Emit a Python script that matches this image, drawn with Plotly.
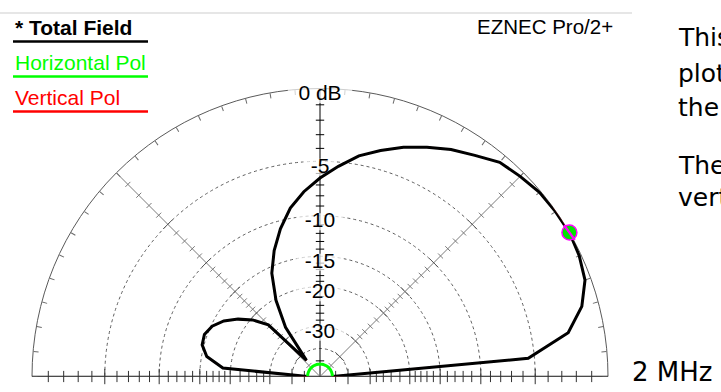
import plotly.graph_objects as go

W, H = 721, 392

# Elevation pattern, 5 degree steps (0 = horizon to the right, 180 = horizon to the left)
elev_deg = [0, 5, 10, 15, 20, 25, 30, 35, 40, 45, 50, 55, 60, 65, 70, 75, 80, 85, 90,
            95, 100, 105, 110, 115, 120, 125, 130, 135, 140, 145, 150, 155, 160, 165,
            170, 175, 180]
total_db = [-99.0, -5.50, -2.29, -1.04, -0.36, -0.12, 0.00, -0.03, -0.09, -0.30, -0.51,
            -1.11, -1.62, -2.22, -2.85, -3.56, -4.31, -5.34, -6.39, -7.55, -8.95, -10.86,
            -13.13, -15.90, -20.35, -26.90, -44.90, -23.55, -20.35, -18.15, -16.36, -15.17,
            -14.60, -14.74, -15.76, -18.59, -99.0]
vpol_db = [-99.0, -5.50, -2.29, -1.04, -0.36, -0.12, 0.00, -0.03, -0.09, -0.30, -0.51,
           -1.11, -1.62, -2.22, -2.85, -3.56, -4.31, -5.34, -6.39, -7.55, -8.95, -10.86,
           -13.13, -15.90, -20.35, -26.90, -44.90, -23.55, -20.35, -18.15, -16.36, -15.17,
           -14.60, -14.74, -15.76, -18.59, -99.0]
hpol_db = [-99.0, -99.0, -99.0, -99.0, -99.0, -99.0, -99.0, -99.0, -99.0, -99.0, -99.0,
           -99.0, -99.0, -99.0, -99.0, -99.0, -99.0, -99.0, -99.0, -99.0, -99.0, -99.0,
           -99.0, -99.0, -99.0, -99.0, -99.0, -99.0, -99.0, -99.0, -99.0, -99.0, -99.0,
           -99.0, -99.0, -99.0, -99.0]

# Dashed rings and scale labels (dB)
ring_db = [-5, -10, -15, -20, -30, -40]
label_db = [0, -5, -10, -15, -20, -30]
label_text = ["0 dB", "-5", "-10", "-15", "-20", "-30"]
label_width_px = [46, 24, 34, 34, 34, 34]
minor_tick_db = [-1, -2, -3, -4, -6, -7, -8, -9, -11, -12, -13, -14, -16, -17, -18, -19,
                 -22, -24, -26, -28, -50]

legend_items = ["* Total Field", "Horizontal Pol", "Vertical Pol"]
legend_colors = ["#000000", "#00ff00", "#ff0000"]

# Slide notes beside the plot; the text box runs past the right edge of the view
note_lines = ["This", "plot", "the", "The", "vertical"]
note_y_px = [38, 74, 108, 165, 198]

FLOOR_DB = -54.0


def arrl(db):
    """ARRL log scale: radius shrinks by 0.89 for every 2 dB below the peak."""
    return 0.89 ** (-max(db, FLOOR_DB) / 2.0)


def radii(values):
    return [arrl(v) for v in values]


# Plot geometry (pixels)
CX, CY, R = 320, 376.5, 288
FONT = "Arial, Liberation Sans, sans-serif"

fig = go.Figure()


def ticks(theta, dbs, symbol, size, color):
    fig.add_trace(go.Scatterpolar(
        r=radii(dbs), theta=[theta] * len(dbs), mode="markers", cliponaxis=False,
        marker=dict(symbol=symbol, size=size, color=color, line=dict(color=color, width=1)),
        hoverinfo="skip", showlegend=False))


# Horizon axis and the 45 / 135 degree spokes
fig.add_trace(go.Scatterpolar(r=[1, 0, 1], theta=[0, 0, 180], mode="lines",
                              line=dict(color="#202020", width=1.5),
                              hoverinfo="skip", showlegend=False))
for ang in (45, 135):
    fig.add_trace(go.Scatterpolar(r=[0, 1], theta=[ang, ang], mode="lines",
                                  line=dict(color="#7a7a7a", width=1),
                                  hoverinfo="skip", showlegend=False))

# Scale ticks along the axes
ticks(90, minor_tick_db, "line-ew", 6, "#000000")
for ang in (0, 180):
    ticks(ang, minor_tick_db, "line-ns", 8, "#303030")
    ticks(ang, ring_db, "line-ns", 11, "#303030")
ticks(45, minor_tick_db, "line-nw", 5, "#7a7a7a")
ticks(45, ring_db, "line-nw", 9, "#555555")
ticks(135, minor_tick_db, "line-ne", 5, "#7a7a7a")
ticks(135, ring_db, "line-ne", 9, "#555555")

# Scale labels on the vertical axis, knocked out of the grid
label_r = [arrl(d) - 6.0 / R for d in label_db]
fig.add_trace(go.Scatterpolar(
    r=label_r, theta=[90] * len(label_db), mode="markers", cliponaxis=False,
    marker=dict(symbol="line-ew", size=label_width_px, color="white",
                line=dict(color="white", width=17)),
    hoverinfo="skip", showlegend=False))
fig.add_trace(go.Scatterpolar(
    r=label_r, theta=[90] * len(label_db), mode="text", text=label_text,
    textposition="middle center", cliponaxis=False,
    textfont=dict(family=FONT, size=21, color="#000000"),
    hoverinfo="skip", showlegend=False))

# Pattern traces
fig.add_trace(go.Scatterpolar(r=radii(vpol_db), theta=elev_deg, mode="lines",
                              line=dict(color="#ff0000", width=1.5), name="Vertical Pol",
                              showlegend=False))
fig.add_trace(go.Scatterpolar(r=radii(total_db), theta=elev_deg, mode="lines",
                              line=dict(color="#000000", width=3), name="Total Field",
                              showlegend=False))
fig.add_trace(go.Scatterpolar(r=radii(hpol_db), theta=elev_deg, mode="lines",
                              line=dict(color="#00ff00", width=3), name="Horizontal Pol",
                              showlegend=False, cliponaxis=False))

# Cursor on the peak of the total field
peak_i = max(range(len(total_db)), key=lambda i: total_db[i])
fig.add_trace(go.Scatterpolar(
    r=[arrl(total_db[peak_i])], theta=[elev_deg[peak_i]], mode="markers", cliponaxis=False,
    marker=dict(symbol="circle", size=15, color="#00e600",
                line=dict(color="#ff00ff", width=1.5)),
    hoverinfo="skip", showlegend=False))
fig.add_trace(go.Scatterpolar(
    r=[arrl(total_db[peak_i])], theta=[elev_deg[peak_i]], mode="markers", cliponaxis=False,
    marker=dict(symbol="line-ns", size=13, angle=-36, color="#ff00ff",
                line=dict(color="#ff00ff", width=2.5)),
    hoverinfo="skip", showlegend=False))

fig.update_layout(
    width=W, height=H, autosize=False,
    margin=dict(l=0, r=0, t=0, b=0),
    paper_bgcolor="white", plot_bgcolor="white",
    showlegend=False,
    polar=dict(
        domain=dict(x=[(CX - R) / W, (CX + R) / W], y=[(H - CY) / H, (H - CY + R) / H]),
        sector=[0, 180],
        bgcolor="rgba(0,0,0,0)",
        radialaxis=dict(range=[0, 1], angle=90, tickvals=radii(ring_db),
                        showticklabels=False, ticks="", showline=True,
                        linecolor="#000000", linewidth=1,
                        showgrid=True, gridcolor="#5e5e5e", gridwidth=1, griddash="3px,3px",
                        layer="below traces"),
        angularaxis=dict(rotation=0, direction="counterclockwise",
                         tickmode="linear", tick0=0, dtick=5,
                         ticks="inside", ticklen=5, tickcolor="#6a6a6a", tickwidth=1,
                         showticklabels=False, showgrid=False,
                         showline=True, linecolor="#5a5a5a", linewidth=1,
                         layer="below traces"),
    ),
)


def px(x):
    return x / W


def py(y):
    return 1 - y / H


shapes = [dict(type="line", xref="paper", yref="paper", x0=0, x1=px(632), y0=py(13), y1=py(13),
               line=dict(color="#e6e6e6", width=2))]
annotations = []
for i, (txt, col) in enumerate(zip(legend_items, legend_colors)):
    base = 35 + 35 * i
    annotations.append(dict(
        text=("<b>%s</b>" % txt) if i == 0 else txt, xref="paper", yref="paper",
        x=px(13), y=py(base - 7.5), xanchor="left", yanchor="middle", showarrow=False,
        font=dict(family=FONT, size=21, color=col)))
    shapes.append(dict(type="line", xref="paper", yref="paper", x0=px(13), x1=px(148),
                       y0=py(base + 6.5), y1=py(base + 6.5), line=dict(color=col, width=2.5)))

annotations.append(dict(text="EZNEC Pro/2+", xref="paper", yref="paper",
                        x=px(475), y=py(26.5), xanchor="left", yanchor="middle",
                        showarrow=False, font=dict(family=FONT, size=20.5, color="#000000")))

SLIDE_FONT = "DejaVu Sans, Verdana, sans-serif"
for txt, yc in zip(note_lines, note_y_px):
    annotations.append(dict(text=txt, xref="paper", yref="paper", x=px(676), y=py(yc),
                            xanchor="left", yanchor="middle", showarrow=False,
                            font=dict(family=SLIDE_FONT, size=25, color="#000000")))
annotations.append(dict(text="2 MHz", xref="paper", yref="paper", x=px(630), y=py(372),
                        xanchor="left", yanchor="middle", showarrow=False,
                        font=dict(family=SLIDE_FONT, size=26, color="#000000")))

fig.update_layout(shapes=shapes, annotations=annotations)
fig.write_html("out.html")
